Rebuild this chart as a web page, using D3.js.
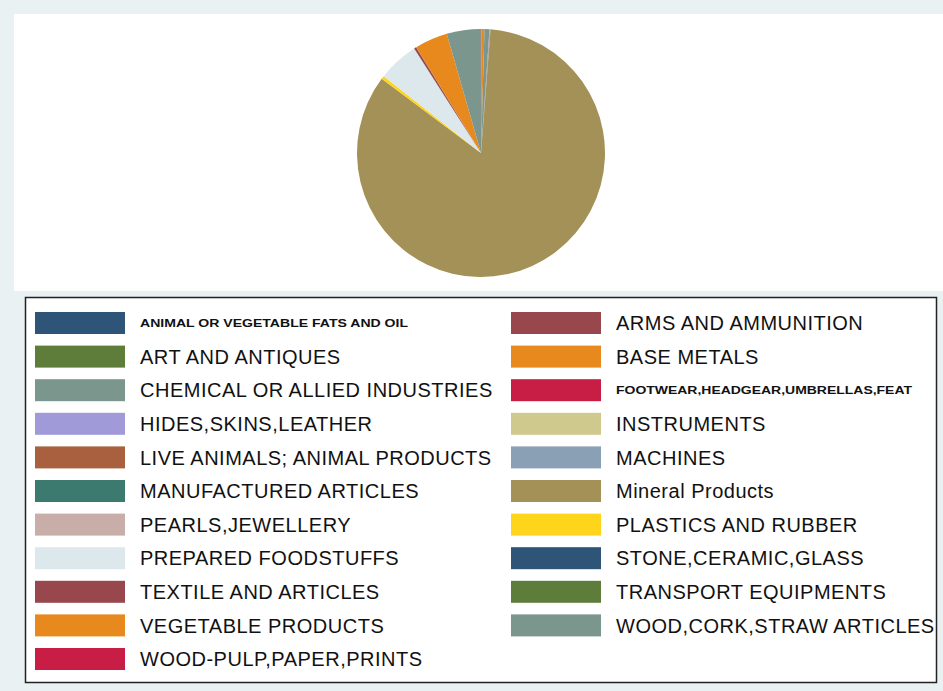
<!DOCTYPE html>
<html><head><meta charset="utf-8">
<script src="https://cdn.jsdelivr.net/npm/d3@7"></script>
<style>html,body{margin:0;padding:0;background:#eaf1f3;}svg{display:block;}</style>
</head><body>
<svg id="c" width="943" height="691"></svg>
<script>
const categories = [
  "ANIMAL OR VEGETABLE FATS AND OIL","ARMS AND AMMUNITION","ART AND ANTIQUES","BASE METALS",
  "CHEMICAL OR ALLIED INDUSTRIES","FOOTWEAR,HEADGEAR,UMBRELLAS,FEAT","HIDES,SKINS,LEATHER","INSTRUMENTS",
  "LIVE ANIMALS; ANIMAL PRODUCTS","MACHINES","MANUFACTURED ARTICLES","Mineral Products",
  "PEARLS,JEWELLERY","PLASTICS AND RUBBER","PREPARED FOODSTUFFS","STONE,CERAMIC,GLASS",
  "TEXTILE AND ARTICLES","TRANSPORT EQUIPMENTS","VEGETABLE PRODUCTS","WOOD,CORK,STRAW ARTICLES",
  "WOOD-PULP,PAPER,PRINTS"];
const shares = [0.01,0.01,0.01,0.42,0.64,0.01,0.02,0.02,0.03,0.04,0.02,84.1,0.01,0.42,5.3,0.02,0.28,0.02,4.3,4.44,0.02];
const colors = ["#2e5477","#98474c","#5f7d3a","#e8891d","#7a968d","#c81e45","#a09bd8","#d0c98e",
  "#a8603e","#8aa0b4","#3c7a70","#a49157","#c9ada8","#ffd51c","#dde8ec","#2e5477","#98474c","#5f7d3a",
  "#e8891d","#7a968d","#c81e45"];
const smallLabels = ["ANIMAL OR VEGETABLE FATS AND OIL","FOOTWEAR,HEADGEAR,UMBRELLAS,FEAT"];

const svg = d3.select("#c");
svg.append("rect").attr("x",0).attr("y",0).attr("width",943).attr("height",691).attr("fill","#eaf1f3");
svg.append("rect").attr("x",14).attr("y",14).attr("width",929).attr("height",277).attr("fill","#ffffff");

const data = categories.map((c,i)=>({name:c,value:shares[i],color:colors[i]}));
const pie = d3.pie().sort(null).value(d=>d.value);
const arc = d3.arc().innerRadius(0).outerRadius(124);
svg.append("g").attr("transform","translate(481,153)")
  .selectAll("path").data(pie(data)).join("path")
  .attr("d",arc).attr("fill",d=>d.data.color);

// legend
svg.append("rect").attr("x",25.5).attr("y",297.5).attr("width",911).attr("height",385)
  .attr("fill","#fff").attr("stroke","#222").attr("stroke-width",1.5);
const rows = Math.ceil(categories.length/2);
const rowY = d3.scalePoint().domain(d3.range(rows)).range([323,659]);
const colX = [35,511];
const lg = svg.append("g").selectAll("g").data(data).join("g")
  .attr("transform",(d,i)=>`translate(${colX[i%2]},${rowY(Math.floor(i/2))})`);
lg.append("rect").attr("x",0).attr("y",-11).attr("width",90).attr("height",22).attr("fill",d=>d.color);
lg.append("text").attr("x",105).attr("y",0).attr("dy","0.36em")
  .attr("font-family","'Liberation Sans', Arial, sans-serif")
  .attr("font-size",d=>smallLabels.includes(d.name)?"11.5px":"20px")
  .attr("letter-spacing",d=>smallLabels.includes(d.name)?null:"0.5px")
  .attr("font-weight",d=>smallLabels.includes(d.name)?"bold":"normal")
  .attr("fill","#111")
  .each(function(d){ if(smallLabels.includes(d.name)){ d3.select(this).attr("textLength", d.name.startsWith("ANIMAL")?268:296).attr("lengthAdjust","spacingAndGlyphs"); } })
  .text(d=>d.name);
</script>
</body></html>
